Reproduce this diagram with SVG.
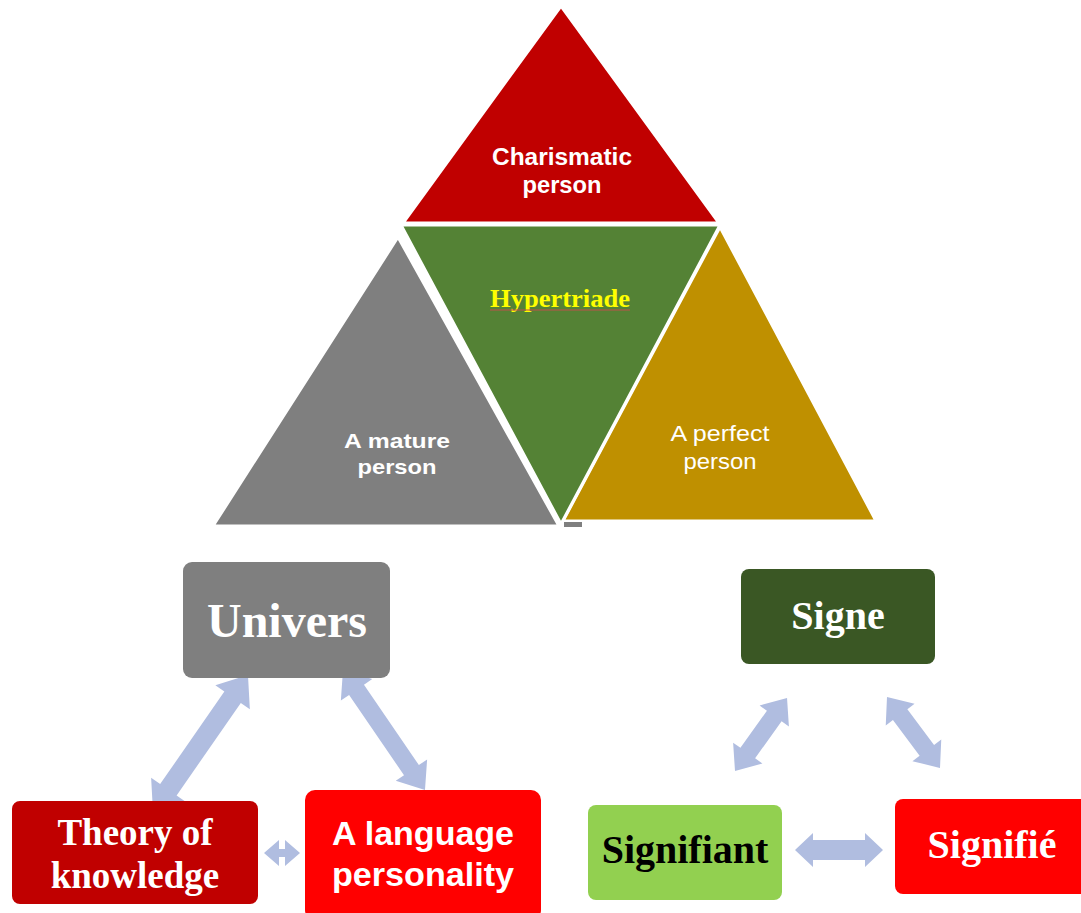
<svg xmlns="http://www.w3.org/2000/svg" width="1081" height="913" viewBox="0 0 1081 913">
<style>
.tri{stroke:#ffffff;stroke-width:3;stroke-linejoin:miter}
.box{stroke:none}
.arr{fill:#b0bde0;stroke:none}
.heavy{font-family:"Liberation Sans",Arial,sans-serif;font-weight:bold;fill:#ffffff;text-anchor:middle}
.serif{font-family:"Liberation Serif","Times New Roman",serif;font-weight:bold;text-anchor:middle}
.plain{font-family:"Liberation Sans",Arial,sans-serif;fill:#ffffff;text-anchor:middle}
</style>
<rect width="1081" height="913" fill="#ffffff"/>
<g id="node-mature">
<polygon class="tri" points="398,237 213,526 559,526" fill="#7f7f7f"/>
<text class="heavy" font-size="21" x="397" y="448" textLength="106" lengthAdjust="spacingAndGlyphs">A mature</text>
<text class="heavy" font-size="21" x="397" y="474" textLength="79" lengthAdjust="spacingAndGlyphs">person</text>
</g>
<g id="node-perfect">
<polygon class="tri" points="720,227 563,521 876,521" fill="#bf9000"/>
<text class="plain" font-size="22" x="720" y="441" textLength="99" lengthAdjust="spacingAndGlyphs">A perfect</text>
<text class="plain" font-size="22" x="720" y="469" textLength="73" lengthAdjust="spacingAndGlyphs">person</text>
</g>
<rect x="564" y="522" width="18" height="5" fill="#7f7f7f"/>
<g id="node-hypertriade">
<polygon class="tri" points="401,225 720,225 561,524" fill="#548235"/>
<text class="serif" font-size="25" x="560" y="307" fill="#ffff00" textLength="140" lengthAdjust="spacingAndGlyphs">Hypertriade</text>
<line x1="490" y1="310" x2="630" y2="310" stroke="#c0504d" stroke-width="1"/>
</g>
<g id="node-charismatic">
<polygon class="tri" points="561,6 403,223 719,223" fill="#c00000"/>
<text class="heavy" font-size="23" x="562" y="165" textLength="140" lengthAdjust="spacingAndGlyphs">Charismatic</text>
<text class="heavy" font-size="23" x="562" y="193" textLength="79" lengthAdjust="spacingAndGlyphs">person</text>
</g>
<g id="connectors">
<path class="arr" transform="translate(153,812) rotate(-55.27)" d="M0,0 L27,-21 L27,-10 L139.7,-10 L139.7,-21 L166.7,0 L139.7,21 L139.7,10 L27,10 L27,21 Z"/>
<path class="arr" transform="translate(343,670) rotate(55.65)" d="M0,0 L24,-19 L24,-9 L121.3,-9 L121.3,-19 L145.3,0 L121.3,19 L121.3,9 L24,9 L24,19 Z"/>
<path class="arr" transform="translate(264,853)" d="M0,0 L15,-13 L15,-4 L21,-4 L21,-13 L36,0 L21,13 L21,4 L15,4 L15,13 Z"/>
<path class="arr" transform="translate(735,771) rotate(-54.5)" d="M0,0 L22,-18 L22,-9 L67.6,-9 L67.6,-18 L89.6,0 L67.6,18 L67.6,9 L22,9 L22,18 Z"/>
<path class="arr" transform="translate(887,697) rotate(53.26)" d="M0,0 L22,-18 L22,-9 L66.6,-9 L66.6,-18 L88.6,0 L66.6,18 L66.6,9 L22,9 L22,18 Z"/>
<path class="arr" transform="translate(795,850)" d="M0,0 L18,-17 L18,-10 L70,-10 L70,-17 L88,0 L70,17 L70,10 L18,10 L18,17 Z"/>
</g>
<g id="node-univers">
<rect class="box" x="183" y="562" width="207" height="116" rx="9" fill="#7f7f7f"/>
<text class="serif" font-size="48" x="287" y="637" fill="#ffffff">Univers</text>
</g>
<g id="node-theory">
<rect class="box" x="12" y="801" width="246" height="103" rx="8" fill="#c00000"/>
<text class="serif" font-size="37" x="135" y="845" fill="#ffffff">Theory of</text>
<text class="serif" font-size="37" x="135" y="888" fill="#ffffff">knowledge</text>
</g>
<g id="node-language">
<rect class="box" x="305" y="790" width="236" height="130" rx="10" fill="#ff0000"/>
<text class="heavy" font-size="33" x="423" y="845" textLength="182" lengthAdjust="spacingAndGlyphs">A language</text>
<text class="heavy" font-size="33" x="423" y="886" textLength="182" lengthAdjust="spacingAndGlyphs">personality</text>
</g>
<g id="node-signe">
<rect class="box" x="741" y="569" width="194" height="95" rx="8" fill="#3a5724"/>
<text class="serif" font-size="40" x="838" y="629" fill="#ffffff">Signe</text>
</g>
<g id="node-signifiant">
<rect class="box" x="588" y="805" width="194" height="95" rx="8" fill="#92d050"/>
<text class="serif" font-size="40" x="685" y="863" fill="#000000">Signifiant</text>
</g>
<g id="node-signifie">
<rect class="box" x="895" y="799" width="200" height="95" rx="8" fill="#ff0000"/>
<text class="serif" font-size="40" x="992" y="858" fill="#ffffff">Signifié</text>
</g>
</svg>
